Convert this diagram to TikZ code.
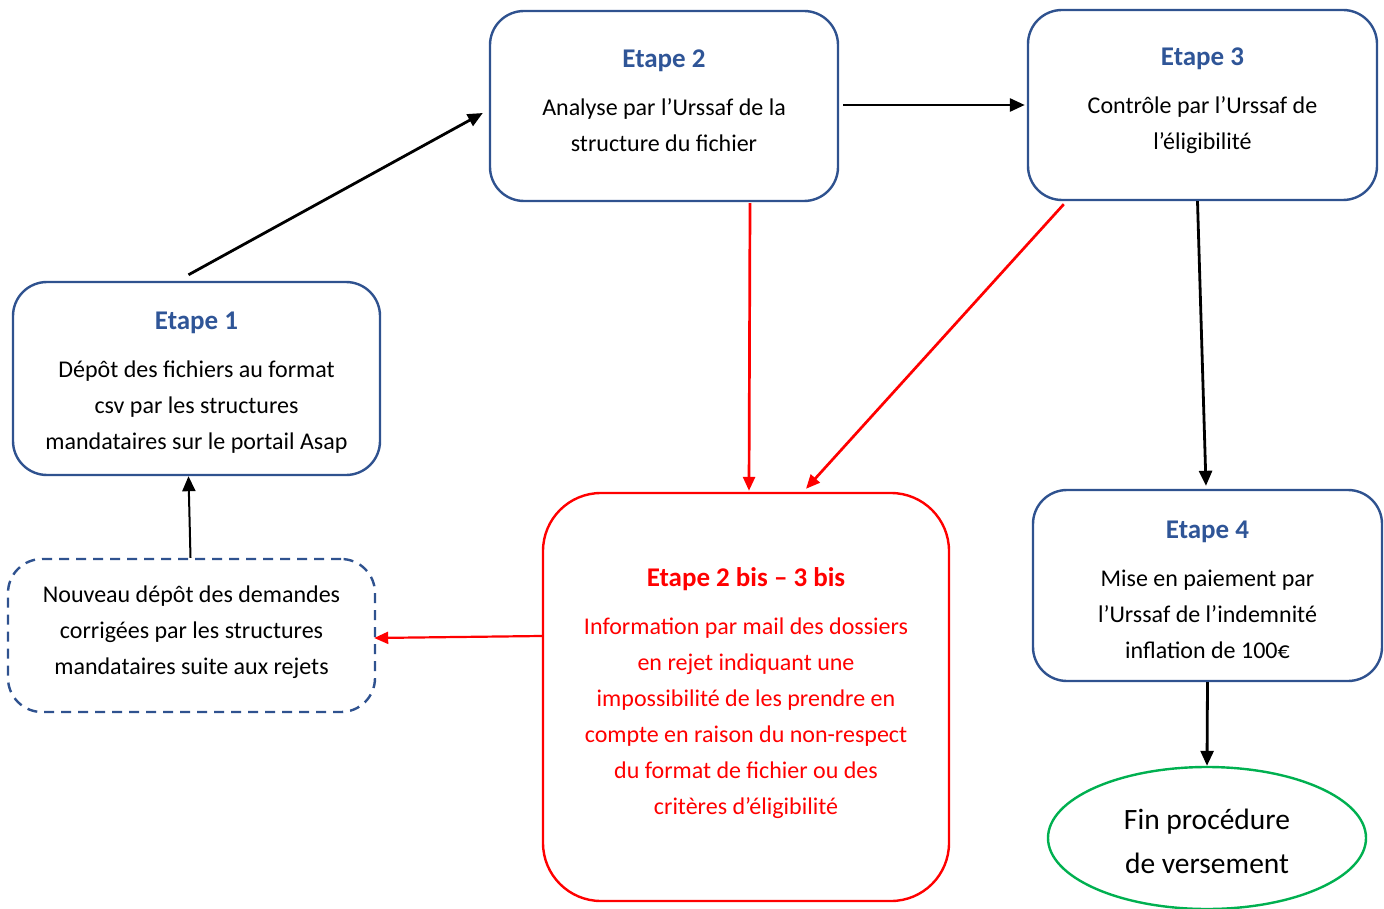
\documentclass[tikz,border=0pt]{standalone}
\usepackage{fontspec}
\setmainfont{Carlito}
\usetikzlibrary{arrows.meta,shapes.geometric}
\definecolor{cadre}{HTML}{2F528F}
\definecolor{titre}{HTML}{2F5597}
\definecolor{vert}{HTML}{00B050}
\begin{document}
\begin{tikzpicture}[x=1pt,y=-1pt,
    etape/.style={draw=cadre,line width=2.4pt,rounded corners=34pt,align=center,
      font=\fontsize{24}{36}\selectfont},
    fleche/.style={line width=2.8pt,-{Triangle[length=15pt,width=13pt]}},
    rouge/.style={red,line width=2.7pt,-{Triangle[length=14pt,width=12pt]}}]
  \useasboundingbox (0,0) rectangle (1384,909);
  \def\tit#1{{\fontsize{27}{36}\selectfont\bfseries\color{titre}#1}\\[12pt]}
  \def\haut{\rule{0pt}{25.5pt}}
  \node[etape,minimum width=367pt,minimum height=193pt] (e1) at (196.5,378.5)
    {\tit{\haut Etape 1}Dépôt des fichiers au format\\csv par les structures\\mandataires sur le portail Asap};
  \node[etape,text depth=10pt,minimum width=348pt,minimum height=190pt] (e2) at (664,106)
    {\tit{Etape 2}Analyse par l’Urssaf de la\\structure du fichier};
  \node[etape,text depth=13pt,minimum width=349pt,minimum height=190pt] (e3) at (1202.5,105)
    {\tit{Etape 3}Contrôle par l’Urssaf de\\l’éligibilité};
  \node[etape,minimum width=349pt,minimum height=191pt] (e4) at (1207.5,585.5)
    {\tit{\haut Etape 4}Mise en paiement par\\l’Urssaf de l’indemnité\\inflation de 100€};
  \node[etape,draw=red,text=red,text depth=11pt,rounded corners=58pt,minimum width=406pt,minimum height=408pt] (bis) at (746,697)
    {{\fontsize{27}{36}\selectfont\bfseries Etape 2 bis – 3 bis}\\[12pt]Information par mail des dossiers\\en rejet indiquant une\\impossibilité de les prendre en\\compte en raison du non-respect\\du format de fichier ou des\\critères d’éligibilité};
  \node[etape,text depth=11pt,dash pattern=on 10pt off 7pt,minimum width=367pt,minimum height=153pt] (redepot) at (191.5,635.5)
    {Nouveau dépôt des demandes\\corrigées par les structures\\mandataires suite aux rejets};
  \node[ellipse,draw=vert,line width=2.4pt,minimum width=318pt,minimum height=142pt,align=center,
    font=\fontsize{29.5}{44}\selectfont] (fin) at (1207,838) {\rule{0pt}{28pt}Fin procédure\\de versement};
  % enchainement
  \draw[fleche] ([xshift=-8pt,yshift=6pt]e1.north) -- ([xshift=-6pt,yshift=-7pt]e2.west);
  \draw[fleche] ([xshift=4pt,yshift=1pt]e2.east) -- ([xshift=-2pt]e3.west);
  \draw[fleche] ([xshift=-5pt]e3.south) -- ([xshift=-1.5pt,yshift=3pt]e4.north);
  \draw[fleche] (e4.south) -- (fin.north);
  \draw[fleche,line width=2pt] ([xshift=-1pt]redepot.north) -- ([xshift=-8pt]e1.south);
  % rejets
  \draw[rouge] ([xshift=86pt,yshift=-1pt]e2.south) -- ([xshift=3pt,yshift=1pt]bis.north);
  \draw[rouge] ([xshift=37pt,yshift=-3pt]e3.south west) -- ([xshift=60pt,yshift=3pt]bis.north);
  \draw[rouge,line width=2.2pt] ([yshift=61pt]bis.west) -- ([xshift=-2pt,yshift=-2.5pt]redepot.east);
\end{tikzpicture}
\end{document}
